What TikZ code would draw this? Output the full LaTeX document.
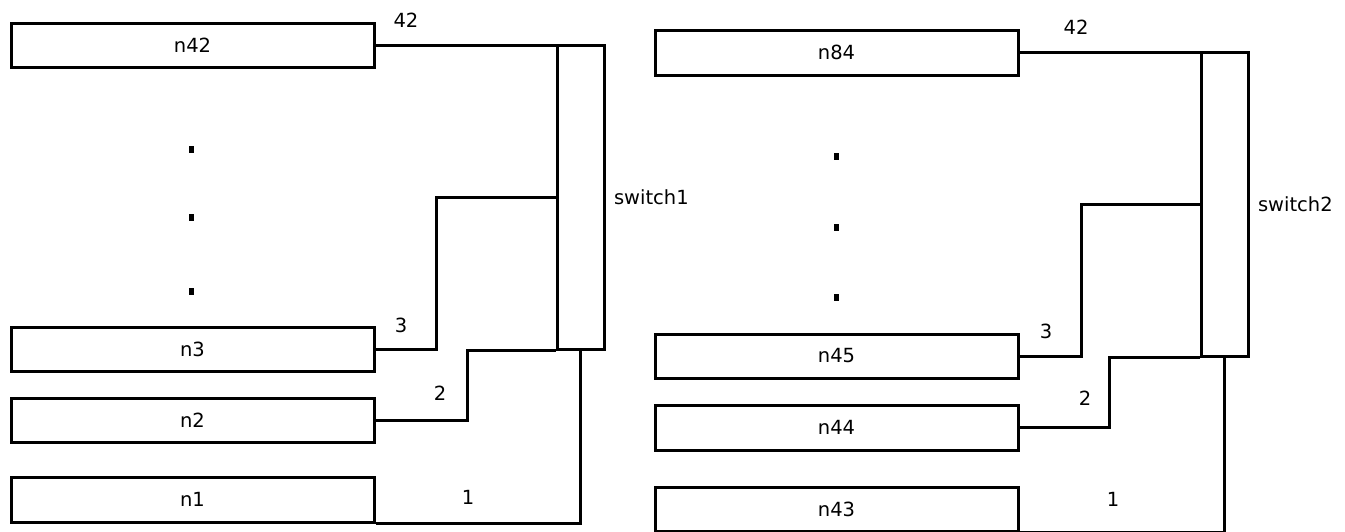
\documentclass[tikz,border=0pt]{standalone}
\usepackage{fontspec}
\setmainfont{DejaVu Sans}
\begin{document}
\begin{tikzpicture}[x=1pt,y=-1pt,line width=3pt]
  \useasboundingbox (0,0) rectangle (1345,531);
  \tikzstyle{HostStyle}=[draw,minimum width=363pt,minimum height=44pt,inner sep=0pt,font=\fontsize{19.5}{22}\selectfont]
  \tikzstyle{SwitchStyle}=[draw,minimum width=47pt,inner sep=0pt]
  \tikzstyle{LabelStyle}=[font=\fontsize{19.5}{22}\selectfont,inner sep=0pt]
  \tikzstyle{DotStyle}=[fill,minimum width=5pt,minimum height=7pt,inner sep=0pt]

  % first column
  \node[HostStyle] (n42) at (192.5,45) {n42};
  \node[HostStyle] (n3) at (192.5,349) {n3};
  \node[HostStyle] (n2) at (192.5,420) {n2};
  \node[HostStyle,minimum height=45pt] (n1) at (192.5,499.5) {n1};
  \node[DotStyle] (d1) at (191,149) {};
  \node[DotStyle] (d2) at (191,217) {};
  \node[DotStyle] (d3) at (191,291) {};
  \node[SwitchStyle,minimum height=304pt] (sw1) at (580.5,197) {};
  \node[LabelStyle,anchor=west] (sw1l) at ([xshift=7pt]sw1.east) {switch1};

  \draw (n42.east) -- (n42.east -| sw1.west);
  \draw (n3.east) -- ++(61,0) |- (sw1.west);
  \draw (n2.east) -- ++(92,0) |- (sw1.south west);
  \draw (n1.south east) -| (sw1.south);

  \node[LabelStyle] (l42a) at (406,20) {42};
  \node[LabelStyle] (l3a) at (401,325) {3};
  \node[LabelStyle] (l2a) at (440,393) {2};
  \node[LabelStyle] (l1a) at (468,497) {1};

  % second column
  \node[HostStyle,minimum height=45pt] (n84) at (836.5,52.5) {n84};
  \node[HostStyle] (n45) at (836.5,356) {n45};
  \node[HostStyle,minimum height=45pt] (n44) at (836.5,427.5) {n44};
  \node[HostStyle] (n43) at (836.5,509) {n43};
  \node[DotStyle] (d4) at (836,156) {};
  \node[DotStyle] (d5) at (836,227) {};
  \node[DotStyle] (d6) at (836,297) {};
  \node[SwitchStyle,minimum height=303.5pt] (sw2) at (1224.5,204.25) {};
  \node[LabelStyle,anchor=west] (sw2l) at ([xshift=7pt]sw2.east) {switch2};

  \draw (n84.east) -- (n84.east -| sw2.west);
  \draw (n45.east) -- ++(62,0) |- (sw2.west);
  \draw (n44.east) -- ++(90,0) |- (sw2.south west);
  \draw (n43.south east) -| (sw2.south);

  \node[LabelStyle] (l42b) at (1076,27) {42};
  \node[LabelStyle] (l3b) at (1046,331) {3};
  \node[LabelStyle] (l2b) at (1085,398) {2};
  \node[LabelStyle] (l1b) at (1113,499) {1};
\end{tikzpicture}
\end{document}
